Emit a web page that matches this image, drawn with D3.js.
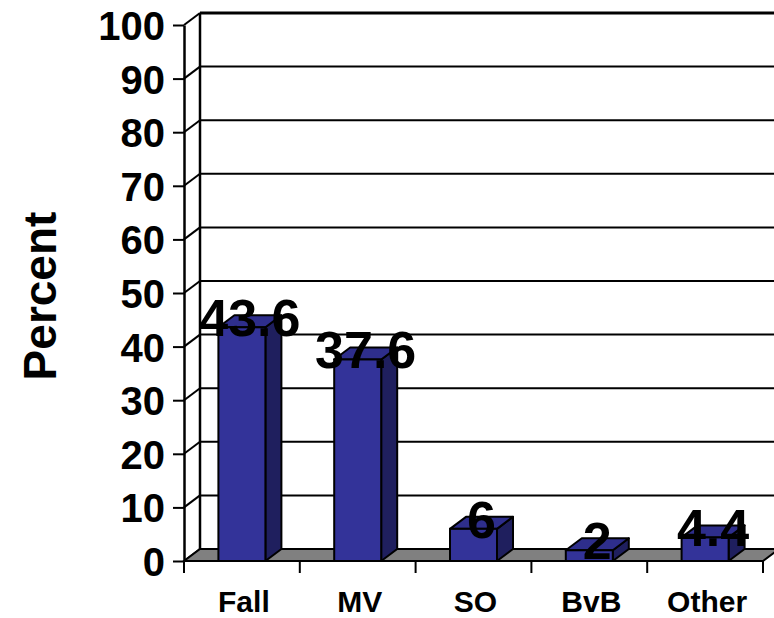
<!DOCTYPE html>
<html>
<head>
<meta charset="utf-8">
<script src="https://cdn.jsdelivr.net/npm/d3@7"></script>
<style>
  body { margin: 0; background: #fff; }
  text { font-family: "Liberation Sans", Arial, sans-serif; font-weight: bold; fill: #000; }
</style>
</head>
<body>
<div class="chart"></div>
<script>
var categories = ["Fall", "MV", "SO", "BvB", "Other"];
var values = [43.6, 37.6, 6, 2, 4.4];
var yTicks = [0, 10, 20, 30, 40, 50, 60, 70, 80, 90, 100];

var width = 774;
var height = 618;
var dx = 16, dy = 12; // depth offset of the 3d box

svg = d3.select(".chart").append("svg")
  .attr("width", width)
  .attr("height", height);

var x0 = 184, x1 = 763, yBottom = 561, yTop = 25;

var x = d3.scaleBand().domain(categories).range([x0, x1]).paddingInner(0).paddingOuter(0);
var y = d3.scaleLinear().domain([0, 100]).range([yBottom, yTop]);
var barW = 47;

// back wall gridlines
svg.append("g").selectAll("line")
  .data(yTicks)
  .enter().append("line")
  .attr("x1", x0 + dx).attr("x2", x1 + dx)
  .attr("y1", d => y(d) - dy).attr("y2", d => y(d) - dy)
  .attr("stroke", "#000")
  .attr("stroke-width", d => d == 100 ? 3 : 2);

// side wall: back left edge and diagonal lines
svg.append("line")
  .attr("x1", x0 + dx).attr("x2", x0 + dx)
  .attr("y1", y(100) - dy).attr("y2", y(0) - dy)
  .attr("stroke", "#000").attr("stroke-width", 2.5);

svg.append("g").selectAll("line")
  .data(yTicks)
  .enter().append("line")
  .attr("x1", x0).attr("x2", x0 + dx)
  .attr("y1", d => y(d)).attr("y2", d => y(d) - dy)
  .attr("stroke", "#000").attr("stroke-width", 2);

// floor
svg.append("path")
  .attr("d", "M" + x0 + "," + yBottom + "L" + (x0 + dx) + "," + (yBottom - dy) +
    "L" + (x1 + dx) + "," + (yBottom - dy) + "L" + x1 + "," + yBottom + "Z")
  .attr("fill", "#808080")
  .attr("stroke", "#000")
  .attr("stroke-width", 2);

// bars
var bars = svg.append("g").selectAll("g")
  .data(categories)
  .enter().append("g");

bars.append("path") // side
  .attr("d", function (d, i) {
    var r = x(d) + x.bandwidth() / 2 + barW / 2, t = y(values[i]);
    return "M" + r + "," + t + "L" + (r + dx) + "," + (t - dy) + "L" + (r + dx) + "," + (yBottom - dy) +
      "L" + r + "," + yBottom + "Z";
  })
  .attr("fill", "#1f1f5e").attr("stroke", "#000").attr("stroke-width", 2).attr("stroke-linejoin", "round");

bars.append("path") // top
  .attr("d", function (d, i) {
    var l = x(d) + x.bandwidth() / 2 - barW / 2, r = l + barW, t = y(values[i]);
    return "M" + l + "," + t + "L" + (l + dx) + "," + (t - dy) + "L" + (r + dx) + "," + (t - dy) +
      "L" + r + "," + t + "Z";
  })
  .attr("fill", "#2e2e8c").attr("stroke", "#000").attr("stroke-width", 2).attr("stroke-linejoin", "round");

bars.append("rect") // front
  .attr("x", d => x(d) + x.bandwidth() / 2 - barW / 2)
  .attr("y", (d, i) => y(values[i]))
  .attr("width", barW)
  .attr("height", (d, i) => yBottom - y(values[i]))
  .attr("fill", "#333399").attr("stroke", "#000").attr("stroke-width", 2);

// y axis
var yAxis = svg.append("g")
  .attr("transform", "translate(" + x0 + ",0)")
  .call(d3.axisLeft(y).tickValues(yTicks).tickSize(11).tickSizeOuter(0).tickPadding(8));
yAxis.select(".domain").attr("stroke", "#000").attr("stroke-width", 2.5);
yAxis.selectAll(".tick line").attr("stroke", "#000").attr("stroke-width", 2);
yAxis.selectAll(".tick text")
  .style("font-size", "40px")
  .style("font-family", "'Liberation Sans', Arial, sans-serif")
  .style("font-weight", "bold")
  .attr("dy", "0.36em");

// x axis ticks at band edges
var edges = categories.map(d => x(d)).concat([x1]);
svg.append("g").selectAll("line")
  .data(edges)
  .enter().append("line")
  .attr("x1", d => d).attr("x2", d => d)
  .attr("y1", yBottom).attr("y2", yBottom + 12)
  .attr("stroke", "#000").attr("stroke-width", 2);

svg.append("line")
  .attr("x1", x0).attr("x2", x1)
  .attr("y1", yBottom).attr("y2", yBottom)
  .attr("stroke", "#000").attr("stroke-width", 2);

svg.append("g").selectAll("text")
  .data(categories)
  .enter().append("text")
  .attr("x", d => x(d) + x.bandwidth() / 2 + 2)
  .attr("y", 612)
  .attr("text-anchor", "middle")
  .style("font-size", "30px")
  .text(d => d);

// data labels
svg.append("g").selectAll("text")
  .data(values)
  .enter().append("text")
  .attr("x", (d, i) => x(categories[i]) + x.bandwidth() / 2 + dx / 2)
  .attr("y", d => y(d) + 9)
  .attr("text-anchor", "middle")
  .style("font-size", "52px")
  .text(d => d);

// y title
svg.append("text")
  .attr("transform", "translate(56,296) rotate(-90)")
  .attr("text-anchor", "middle")
  .style("font-size", "46px")
  .text("Percent");
</script>
</body>
</html>
